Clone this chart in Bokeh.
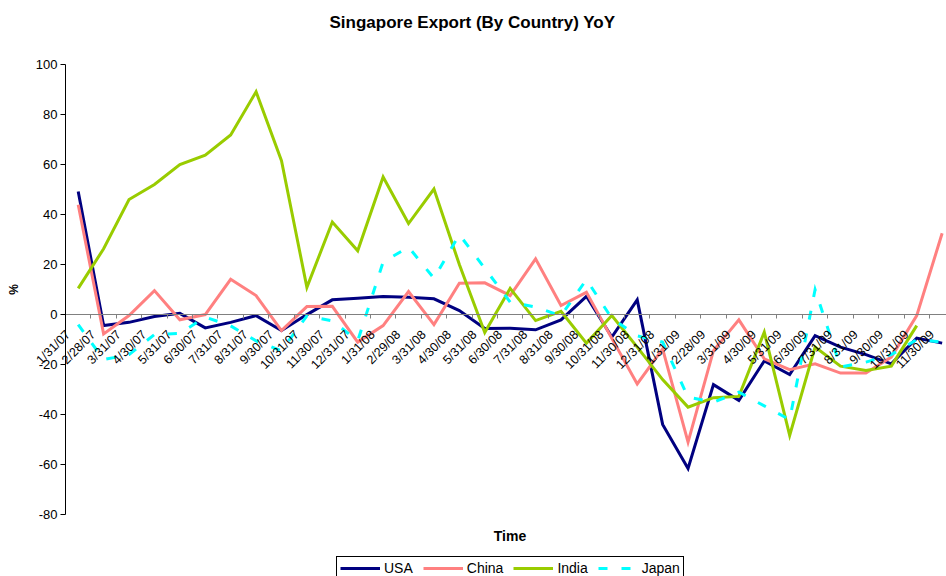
import math
from bokeh.plotting import figure
from bokeh.models import (Range1d, LinearAxis, FixedTicker, Legend, LegendItem,
                          ColumnDataSource, Label)
from bokeh.embed import file_html
from bokeh.resources import INLINE

categories = ["1/31/07", "2/28/07", "3/31/07", "4/30/07", "5/31/07", "6/30/07",
              "7/31/07", "8/31/07", "9/30/07", "10/31/07", "11/30/07", "12/31/07",
              "1/31/08", "2/29/08", "3/31/08", "4/30/08", "5/31/08", "6/30/08",
              "7/31/08", "8/31/08", "9/30/08", "10/31/08", "11/30/08", "12/31/08",
              "1/31/09", "2/28/09", "3/31/09", "4/30/09", "5/31/09", "6/30/09",
              "7/31/09", "8/31/09", "9/30/09", "10/31/09", "11/30/09"]

usa = [49.2, -4.4, -3.1, -0.8, 0.5, -5.3, -3.1, -0.4, -6.4, 0.0, 5.9, 6.5,
       7.2, 6.9, 6.3, 1.6, -5.6, -5.5, -6.1, -2.1, 7.3, -9.0, 5.9, -43.9,
       -61.5, -28.0, -34.3, -18.5, -24.0, -8.4, -13.0, -16.0, -19.7, -9.4, -11.4]
china = [43.9, -7.7, -0.4, 9.6, -2.1, 0.0, 14.1, 7.6, -6.4, 3.2, 3.3, -11.0,
         -4.4, 9.2, -4.0, 12.5, 12.7, 7.6, 22.3, 3.6, 8.9, -9.5, -27.7, -13.7,
         -51.0, -14.4, -2.1, -17.7, -22.0, -19.7, -23.4, -23.4, -17.0, -0.4, 32.5]
india = [10.5, 26.3, 46.0, 52.0, 60.0, 63.7, 71.8, 89.1, 61.5, 10.9, 37.0, 25.5,
         55.0, 36.4, 50.2, 20.0, -7.2, 10.5, -2.4, 1.3, -11.4, -0.4, -13.0, -26.0,
         -37.0, -33.2, -32.7, -7.0, -48.3, -13.0, -20.6, -22.3, -20.6, -4.4, None]
japan = [-4.0, -18.0, -16.0, -8.0, -7.5, -1.0, -4.5, -10.5, -14.5, -0.5, -2.5, -10.5,
         21.0, 27.0, 14.5, 32.0, 18.5, 5.0, 3.0, -0.5, 14.0, -1.5, -8.5, -11.0,
         -33.0, -35.0, -31.0, -36.5, -42.0, 10.0, -21.0, -19.0, -16.0, -10.0, -11.0]

y_ticks = [-80, -60, -40, -20, 0, 20, 40, 60, 80, 100]
y_tick_labels = ["-80", "-60", "-40", "-20", "0", "20", "40", "60", "80", "100"]

series_names = ["USA", "China", "India", "Japan"]
series_colors = ["#000080", "#FF8080", "#99CC00", "#00FFFF"]
series_dashes = ["solid", "solid", "solid", "9 14"]

FONT = "Liberation Sans"

# geometry (pixels) of the reference plot area
CAT_W = 25.41          # px per category
PX_PER_UNIT = 2.506    # px per % unit
FIG_W, FIG_H = 946, 576
FRAME_TOP = 40         # top of drawing frame
Y100_PX = 63           # pixel row of the value 100
AXIS_X = 65            # y axis position inside the frame
FRAME_H = FIG_H - FRAME_TOP

# category k: label tick at k, point at k + 0.4, boundary at k - 0.1
pt_offset = 0.4
bd_offset = -0.1
n = len(categories)
xs = [k + pt_offset for k in range(n)]

x_start = bd_offset - AXIS_X / CAT_W
x_end = x_start + FIG_W / CAT_W
y_top = 100 + (Y100_PX - FRAME_TOP) / PX_PER_UNIT
y_bottom = y_top - FRAME_H / PX_PER_UNIT

p = figure(width=FIG_W, height=FIG_H, output_backend="svg", toolbar_location=None,
           x_range=Range1d(x_start, x_end),
           y_range=Range1d(y_bottom, y_top),
           x_axis_location=None, y_axis_location=None,
           min_border_left=0, min_border_right=0, min_border_top=FRAME_TOP,
           min_border_bottom=0)
p.grid.visible = False
p.outline_line_color = None
p.background_fill_color = "white"
p.border_fill_color = "white"

# title
p.title.text = "Singapore Export (By Country) YoY"
p.title.align = "left"
p.title.offset = 329
p.title.text_font = FONT
p.title.text_font_size = "17px"
p.title.text_font_style = "bold"
p.title.text_color = "black"
p.title.standoff = 20

# y axis at fixed position
ya = LinearAxis(fixed_location=bd_offset, bounds=(-80, 100),
                ticker=FixedTicker(ticks=y_ticks, minor_ticks=[]),
                major_label_overrides={t: l for t, l in zip(y_ticks, y_tick_labels)})
ya.major_tick_out = 5
ya.major_tick_in = 0
ya.minor_tick_out = 0
ya.minor_tick_in = 0
ya.axis_line_color = "black"
ya.major_tick_line_color = "black"
ya.major_label_text_font = FONT
ya.major_label_text_font_size = "13px"
ya.major_label_text_color = "black"
ya.major_label_standoff = 3
ya.axis_label = "%"
ya.axis_label_text_font = FONT
ya.axis_label_text_font_size = "12px"
ya.axis_label_text_font_style = "bold"
ya.axis_label_text_color = "black"
ya.axis_label_standoff = 12
p.add_layout(ya, "left")

# category axis crossing at y = 0
xa = LinearAxis(fixed_location=0, bounds=(bd_offset, x_end),
                ticker=FixedTicker(ticks=list(range(n)),
                                   minor_ticks=[k + bd_offset for k in range(n + 1)]),
                major_label_overrides={k: c for k, c in enumerate(categories)})
xa.axis_line_color = "#808080"
xa.major_tick_out = 0
xa.major_tick_in = 0
xa.minor_tick_out = 4
xa.minor_tick_in = 0
xa.minor_tick_line_color = "#808080"
xa.major_label_orientation = math.pi / 4
xa.major_label_standoff = 14
xa.major_label_text_font = FONT
xa.major_label_text_font_size = "12.5px"
xa.major_label_text_color = "black"
p.add_layout(xa, "below")

# "Time" axis title
time_x = bd_offset + (509.5 - AXIS_X) / CAT_W
time_y = -80 - (536 - 514.5) / PX_PER_UNIT
p.add_layout(Label(x=time_x, y=time_y, text="Time", text_align="center",
                   text_baseline="middle", text_font=FONT, text_font_size="14px",
                   text_font_style="bold", text_color="black"))

items = []
for name, vals, col, dash in zip(series_names, [usa, china, india, japan],
                                  series_colors, series_dashes):
    src = ColumnDataSource(dict(x=[x for x, v in zip(xs, vals) if v is not None],
                                y=[v for v in vals if v is not None]))
    r = p.line("x", "y", source=src, line_color=col, line_width=3,
               line_dash=dash, line_join="miter")
    items.append(LegendItem(label=name, renderers=[r]))

legend = Legend(items=items, orientation="horizontal", location=(336, -4))
legend.label_text_font = FONT
legend.label_text_font_size = "14px"
legend.label_text_color = "black"
legend.glyph_width = 40
legend.glyph_height = 14
legend.label_height = 14
legend.label_standoff = 4
legend.spacing = 10
legend.padding = 3
legend.margin = 0
legend.border_line_color = "black"
legend.border_line_width = 1
legend.border_line_alpha = 1
legend.background_fill_color = "white"
p.add_layout(legend, "center")

open("out.html", "w").write(file_html(p, INLINE))
